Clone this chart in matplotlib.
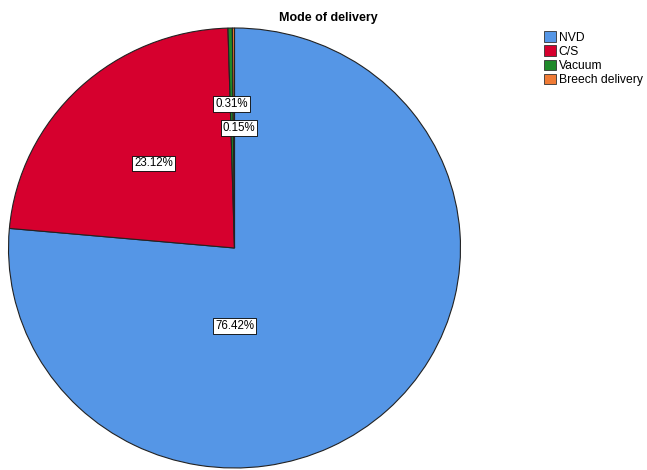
import matplotlib
matplotlib.use("Agg")
import matplotlib.pyplot as plt
from matplotlib.patches import Patch

categories = ["NVD", "C/S", "Vacuum", "Breech delivery"]
values = [76.42, 23.12, 0.31, 0.15]
labels = ["76.42%", "23.12%", "0.31%", "0.15%"]
colors = ["#5596E6", "#D6002E", "#1F8A2A", "#F07B35"]
# label offsets from pie centre (pixels, x right / y up)
label_pos = [(0, -78), (-81, 84.5), (-3, 144), (4.5, 120)]

W, H = 647, 470
# pie is slightly squashed vertically in the reference (226 px wide radius, 220 px tall)
rx, ry = 226, 220
k = rx / ry
fig = plt.figure(figsize=(W / 100, H / 100), dpi=100)
ax = fig.add_axes([0, 0, 1, 1])

cx, cy_px = 234.5, 248
cy = (H - cy_px) * k
ax.pie(values, colors=colors, startangle=90, counterclock=False,
       center=(cx, cy), radius=rx, frame=True,
       wedgeprops=dict(edgecolor="#222222", linewidth=0.8))
ax.set_xlim(0, W)
ax.set_ylim(0, H * k)
ax.set_aspect("auto")
ax.axis("off")

for lab, (dx, dy) in zip(labels, label_pos):
    ax.text(cx + dx, cy + dy * k, lab, ha="center", va="center", fontsize=8.3,
            family="Liberation Sans",
            bbox=dict(boxstyle="square,pad=0.17", facecolor="white",
                      edgecolor="black", linewidth=0.6))

fig.text(328 / W, 1 - 18 / H, "Mode of delivery", ha="center", va="center",
         fontsize=9, fontweight="bold", family="Liberation Sans")

handles = [Patch(facecolor=c, edgecolor="#333333", linewidth=0.6) for c in colors]
fig.legend(handles, categories, loc="upper left",
           bbox_to_anchor=(543 / W, 1 - 30 / H), frameon=False,
           prop=dict(family="Liberation Sans", size=8.7),
           handlelength=1.0, handleheight=0.95, handletextpad=0.2,
           labelspacing=0.15, borderpad=0.1, borderaxespad=0)

fig.savefig("out.png", dpi=100)
